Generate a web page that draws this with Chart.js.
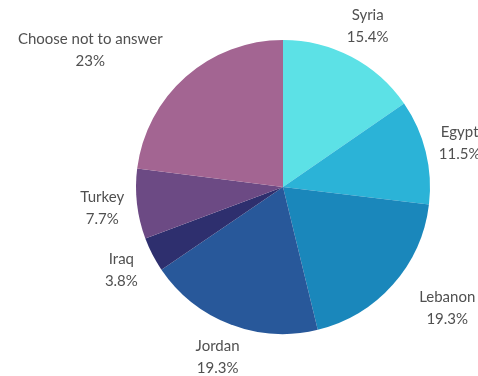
<!DOCTYPE html>
<html lang="en">
<head>
  <meta charset="UTF-8" />
  <title>Country of origin</title>
  <script src="https://cdn.jsdelivr.net/npm/chart.js"></script>
  <style>
    html, body { margin: 0; padding: 0; background: #fff; }
    .chart-container { width: 478px; height: 376px; }
  </style>
</head>
<body>
  <div class="chart-container">
    <canvas id="originChart"></canvas>
  </div>

  <script>
    const countries = ['Syria', 'Egypt', 'Lebanon', 'Jordan', 'Iraq', 'Turkey', 'Choose not to answer'];
    const shares = [15.4, 11.5, 19.3, 19.3, 3.8, 7.7, 23];
    const sliceColors = ['#5ce1e6', '#2bb3d7', '#1a87bb', '#28589a', '#2e2f6e', '#6c4a84', '#a36592'];

    // two-line labels (name + percent) outside each slice
    const outsideLabels = {
      id: 'outsideLabels',
      afterDatasetsDraw(chart) {
        const ctx = chart.ctx;
        const arcs = chart.getDatasetMeta(0).data;
        ctx.save();
        ctx.font = '15px Lato, "Open Sans", sans-serif';
        ctx.fillStyle = '#505050';
        ctx.textAlign = 'center';
        ctx.textBaseline = 'middle';
        arcs.forEach((arc, i) => {
          const mid = (arc.startAngle + arc.endAngle) / 2;
          const vx = Math.cos(mid), vy = Math.sin(mid);
          const dist = arc.outerRadius + 35;
          const px = arc.x + vx * dist;
          const py = arc.y + vy * dist;
          const lines = [countries[i], shares[i] + '%'];
          const w = Math.max(...lines.map(l => ctx.measureText(l).width));
          let cx = px;
          // diagonal labels hug the leader point with their near edge
          if (Math.abs(vx) > 0.6 && Math.abs(vy) > 0.6) cx = px + Math.sign(vx) * w / 2;
          const lh = 22;
          lines.forEach((l, k) => ctx.fillText(l, cx, py + (k - (lines.length - 1) / 2) * lh));
        });
        ctx.restore();
      }
    };

    new Chart(document.getElementById('originChart'), {
      type: 'pie',
      data: {
        labels: countries,
        datasets: [{ data: shares, backgroundColor: sliceColors, borderWidth: 0 }]
      },
      options: {
        responsive: true,
        maintainAspectRatio: false,
        animation: false,
        layout: { padding: { left: 130, right: 42, top: 40, bottom: 42 } },
        plugins: { legend: { display: false }, tooltip: { enabled: false } }
      },
      plugins: [outsideLabels]
    });
  </script>
</body>
</html>
